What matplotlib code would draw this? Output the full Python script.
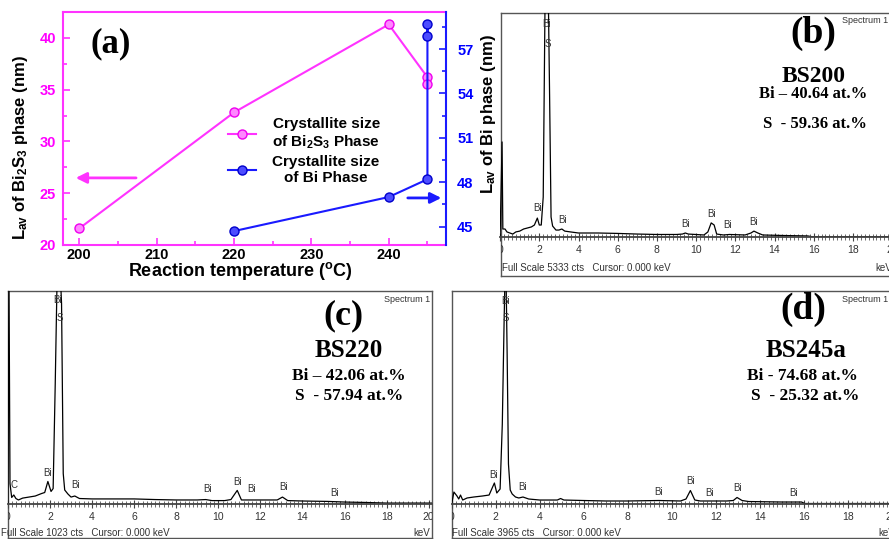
import matplotlib.pyplot as plt
from matplotlib.ticker import MultipleLocator

plt.rcParams['font.family'] = ['Liberation Sans', 'DejaVu Sans']
plt.rcParams['mathtext.fontset'] = 'custom'
plt.rcParams['mathtext.rm'] = 'Liberation Sans:bold'
plt.rcParams['mathtext.it'] = 'Liberation Sans:bold'
plt.rcParams['mathtext.bf'] = 'Liberation Sans:bold'
plt.rcParams['mathtext.default'] = 'rm'

W, H = 889, 539


def fx(x):
    return x / W


def fy(y):
    return 1 - y / H


# ---- (a) crystallite size vs reaction temperature ----
temp_bi2s3 = [200, 220, 240, 245, 245]
size_bi2s3 = [21.6, 32.8, 41.3, 36.2, 35.5]
temp_bi = [220, 240, 245, 245, 245]
size_bi = [44.7, 47.0, 48.2, 58.7, 57.9]

# ---- EDS spectra (keV, counts) ----
kev_b = [0, 0.1, 0.14, 0.25, 0.35, 0.5, 0.65, 0.8, 1.0, 1.2, 1.4, 1.6, 1.75, 1.9, 2.0, 2.1,
         2.2, 2.3, 2.42, 2.52, 2.6, 2.68, 2.85, 3.0, 3.15, 3.3, 3.6, 4.0, 5.0, 6.0, 7.0, 8.0,
         9.0, 9.3, 9.45, 9.6, 10.4, 10.6, 10.77, 10.92, 11.05, 11.4, 11.7, 12.5, 12.8, 12.95,
         13.15, 13.4, 14.5, 15.7, 15.9, 20.5]
cts_b = [0, 2260, 190, 190, 120, 95, 70, 120, 140, 190, 215, 240, 285, 450, 285, 285,
         950, 5950, 7140, 3570, 475, 260, 165, 165, 190, 140, 120, 95, 95, 85, 70, 60,
         60, 70, 95, 70, 48, 120, 335, 285, 70, 48, 60, 48, 95, 140,
         95, 48, 35, 25, 8, 8]

kev_c = [0, 0.05, 0.1, 0.18, 0.28, 0.38, 0.5, 0.7, 1.0, 1.3, 1.6, 1.75, 1.9, 2.05, 2.15,
         2.25, 2.35, 2.45, 2.55, 2.63, 2.7, 2.85, 3.0, 3.18, 3.4, 4.0, 5.0, 6.0, 7.0, 8.0,
         9.0, 9.4, 9.7, 10.3, 10.6, 10.9, 11.1, 11.6, 12.5, 12.8, 13.05, 13.3, 14.0, 15.2,
         16.0, 17.0, 18.0, 20.2]
cts_c = [0, 1106, 96, 29, 41, 24, 17, 26, 31, 36, 48, 53, 106, 58, 72,
         577, 1154, 1203, 962, 144, 65, 46, 31, 36, 24, 22, 22, 22, 19, 17,
         17, 19, 14, 14, 19, 63, 17, 17, 17, 17, 31, 14, 12, 10,
         7, 5, 2, 2]

kev_d = [0, 0.1, 0.24, 0.32, 0.4, 0.5, 0.7, 1.0, 1.4, 1.7, 1.94, 2.05, 2.2, 2.3, 2.38,
         2.45, 2.52, 2.58, 2.66, 2.75, 2.9, 3.05, 3.24, 3.5, 4.0, 4.8, 4.95, 5.1, 6.0, 7.0,
         8.0, 9.4, 10.4, 10.65, 10.85, 11.05, 11.3, 12.5, 12.8, 12.97, 13.2, 13.5, 15.0,
         15.9, 16.05, 20.5]
cts_d = [0, 223, 149, 93, 167, 74, 112, 130, 149, 167, 391, 205, 279, 1488, 3348,
         4836, 2790, 744, 260, 186, 130, 112, 130, 93, 74, 74, 102, 74, 65, 56,
         56, 65, 56, 93, 251, 74, 56, 56, 65, 121, 65, 46, 37,
         37, 9, 9]

samples = ['BS200', 'BS220', 'BS245a']
tags = ['(b)', '(c)', '(d)']
bi_at = ['Bi \u2013 40.64 at.%', 'Bi \u2013 42.06 at.%', 'Bi - 74.68 at.%']
s_at = ['S  - 59.36 at.%', 'S  - 57.94 at.%', 'S  - 25.32 at.%']
full_scale = [5333, 1023, 3965]

# peak markers: (label, keV, label height in px of the picture)
peaks_b = [('Bi', 2.38, 24), ('S', 2.45, 44), ('Bi', 1.9, 208), ('Bi', 3.2, 220),
           ('Bi', 9.45, 224), ('Bi', 10.8, 214), ('Bi', 11.6, 225), ('Bi', 12.95, 222)]
peaks_c = [('Bi', 2.35, 300), ('S', 2.45, 318), ('C', 0.28, 485), ('Bi', 1.9, 473),
           ('Bi', 3.2, 485), ('Bi', 9.5, 489), ('Bi', 10.9, 482), ('Bi', 11.6, 489),
           ('Bi', 13.1, 487), ('Bi', 15.5, 493)]
peaks_d = [('Bi', 2.43, 301), ('S', 2.45, 318), ('Bi', 1.9, 475), ('Bi', 3.2, 487),
           ('Bi', 9.4, 492), ('Bi', 10.85, 481), ('Bi', 11.7, 493), ('Bi', 13.0, 488),
           ('Bi', 15.55, 493)]

fig = plt.figure(figsize=(W / 100, H / 100), dpi=100)
fig.patch.set_facecolor('white')

# ================= panel (a) =================
PINK, BLUE = '#ff33ff', '#1a1aff'
ax = fig.add_axes([fx(63), fy(245), (446 - 63) / W, (245 - 12) / H])
ax2 = ax.twinx()
l1, = ax.plot(temp_bi2s3, size_bi2s3, '-o', color=PINK, lw=1.5, ms=6.5,
              mfc='#ff88ff', mec='#ee00ee', mew=1.0)
l2, = ax2.plot(temp_bi, size_bi, '-o', color=BLUE, lw=1.5, ms=6.5,
               mfc='#4d4dff', mec='#0000cc', mew=1.0)
ax.set_xlim(197.9, 247.4)
ax.set_ylim(20, 42.5)
ax2.set_ylim(43.76, 59.5)
ax.xaxis.set_major_locator(MultipleLocator(10))
ax.xaxis.set_minor_locator(MultipleLocator(5))
ax.yaxis.set_major_locator(MultipleLocator(5))
ax.yaxis.set_minor_locator(MultipleLocator(2.5))
ax2.yaxis.set_major_locator(MultipleLocator(3))
ax2.yaxis.set_minor_locator(MultipleLocator(1.5))

ax.tick_params(axis='x', which='both', direction='in', color=PINK, labelcolor='black',
               labelsize=10.5, width=1.2, pad=2)
ax.tick_params(axis='y', which='both', direction='in', color=PINK, labelcolor='#ff00ff',
               labelsize=10.5, width=1.2, pad=5)
ax2.tick_params(axis='y', which='both', direction='in', color=BLUE, labelcolor='#0000ff',
                labelsize=10.5, width=1.2, pad=8)
ax.tick_params(which='major', length=5)
ax.tick_params(which='minor', length=3)
ax2.tick_params(which='major', length=5)
ax2.tick_params(which='minor', length=3)
plt.setp(ax.get_xticklabels() + ax.get_yticklabels() + ax2.get_yticklabels(), fontweight='bold')

for s in ('left', 'top', 'bottom'):
    ax.spines[s].set_color(PINK)
    ax.spines[s].set_linewidth(1.5)
    ax2.spines[s].set_visible(False)
ax.spines['right'].set_visible(False)
ax2.spines['right'].set_color(BLUE)
ax2.spines['right'].set_linewidth(1.5)

ax.set_xlabel('Reaction temperature ($^{o}$C)', fontsize=13, fontweight='bold')
ax.xaxis.set_label_coords(0.462, -0.066)
ax.set_ylabel('L$_{av}$ of Bi$_{2}$S$_{3}$ phase (nm)', fontsize=12, fontweight='bold')
ax.yaxis.set_label_coords(-0.085, 0.42)
ax2.set_ylabel('L$_{av}$ of Bi phase (nm)', fontsize=12, fontweight='bold')
ax2.yaxis.set_label_coords(1.086, 0.56)

leg = ax2.legend([l1, l2], ['Crystallite size\nof Bi$_{2}$S$_{3}$ Phase', 'Crystallite size\nof Bi Phase'],
                 loc='upper left', bbox_to_anchor=(0.431, 0.55), frameon=False,
                 prop={'size': 11, 'weight': 'bold'}, handlelength=1.8, handletextpad=1.1,
                 labelspacing=0.25, borderaxespad=0, borderpad=0, numpoints=1)
for t in leg.get_texts():
    t.set_multialignment('center')

ax.annotate('', xy=(0.026, 0.288), xytext=(0.198, 0.288), xycoords='axes fraction',
            arrowprops=dict(arrowstyle='-|>', color=PINK, lw=2, mutation_scale=16))
ax.annotate('', xy=(0.995, 0.202), xytext=(0.893, 0.202), xycoords='axes fraction',
            arrowprops=dict(arrowstyle='-|>', color=BLUE, lw=2, mutation_scale=16))

fig.text(fx(90), fy(52), '(a)', family='Liberation Serif', fontweight='bold', fontsize=25,
         va='baseline')

# ================= EDS panels =================
SERIF = 'Liberation Serif'
layouts = [
    # frame (left, top, right, bottom), 0 keV px, px per keV, axis px, text anchors
    dict(frame=(500.5, 12.7, 900, 276), x0=500.1, pxk=19.6, axis=237,
         tag=(813, 43, 27), name=(814, 82, 17), bi=(813, 98, 12), s=(815, 128, 12),
         fsx=(502, 271), kev=(875, 271, 'left'), spec=(888, 23, 'right')),
    dict(frame=(8, 291, 432, 538), x0=7.9, pxk=21.04, axis=503.5,
         tag=(343, 324, 26), name=(349, 357, 18), bi=(349, 380, 12.5), s=(349, 400, 12.5),
         fsx=(1, 536), kev=(430, 536, 'right'), spec=(430, 302, 'right')),
    dict(frame=(452, 291, 900, 538), x0=451.7, pxk=22.0, axis=504,
         tag=(803, 319, 27), name=(806, 357, 18), bi=(802.5, 380, 12.5), s=(805, 400, 12.5),
         fsx=(452, 536), kev=(878, 536, 'left'), spec=(842, 302, 'left')),
]
spectra = [(kev_b, cts_b, peaks_b), (kev_c, cts_c, peaks_c), (kev_d, cts_d, peaks_d)]

for i, (lay, (kev, cts, peaks)) in enumerate(zip(layouts, spectra)):
    fl, ft, fr, fb = lay['frame']
    frax = fig.add_axes([fx(fl), fy(fb), (fr - fl) / W, (fb - ft) / H])
    frax.set_xticks([])
    frax.set_yticks([])
    for s in frax.spines.values():
        s.set_color('#555555')
        s.set_linewidth(1.0)

    x0, pxk, axy = lay['x0'], lay['pxk'], lay['axis']
    sp = fig.add_axes([fx(x0), fy(axy), (fr - x0) / W, (axy - ft) / H])
    sp.patch.set_visible(False)
    sp.set_xlim(0, (fr - x0) / pxk)
    sp.set_ylim(0, full_scale[i])
    sp.plot(kev, cts, color='black', lw=0.9)
    for s in ('left', 'right', 'top'):
        sp.spines[s].set_visible(False)
    sp.spines['bottom'].set_color('#444444')
    sp.spines['bottom'].set_linewidth(1.3)
    sp.set_yticks([])
    sp.xaxis.set_major_locator(MultipleLocator(2))
    sp.xaxis.set_minor_locator(MultipleLocator(0.2))
    sp.xaxis.set_major_formatter(lambda v, p: '%d' % round(v))
    sp.tick_params(axis='x', which='major', direction='inout', length=6, width=0.8,
                   color='#444444', labelcolor='#333333', labelsize=7.5, pad=3)
    sp.tick_params(axis='x', which='minor', direction='inout', length=4, width=0.6,
                   color='#555555')
    for t in sp.get_xticklabels():
        t.set_clip_on(True)
        t.set_clip_box(frax.bbox)

    for lab, e, ypx in peaks:
        sp.text(e, (axy - ypx) / (axy - ft) * full_scale[i], lab, ha='center', va='center',
                fontsize=7, color='#333333')

    tx, ty, tsz = lay['tag']
    fig.text(fx(tx), fy(ty), tags[i], family=SERIF, fontweight='bold', fontsize=tsz,
             ha='center', va='baseline')
    tx, ty, tsz = lay['name']
    fig.text(fx(tx), fy(ty), samples[i], family=SERIF, fontweight='bold', fontsize=tsz,
             ha='center', va='baseline')
    tx, ty, tsz = lay['bi']
    fig.text(fx(tx), fy(ty), bi_at[i], family=SERIF, fontweight='bold', fontsize=tsz,
             ha='center', va='baseline')
    tx, ty, tsz = lay['s']
    fig.text(fx(tx), fy(ty), s_at[i], family=SERIF, fontweight='bold', fontsize=tsz,
             ha='center', va='baseline')

    tx, ty = lay['fsx']
    fig.text(fx(tx), fy(ty), 'Full Scale %d cts   Cursor: 0.000 keV' % full_scale[i],
             fontsize=7, color='#333333', va='baseline')
    tx, ty, al = lay['kev']
    fig.text(fx(tx), fy(ty), 'keV', fontsize=7, color='#333333', va='baseline', ha=al)
    tx, ty, al = lay['spec']
    fig.text(fx(tx), fy(ty), 'Spectrum 1', fontsize=6.5, color='#333333', va='baseline', ha=al)

fig.savefig('out.png', dpi=100)
